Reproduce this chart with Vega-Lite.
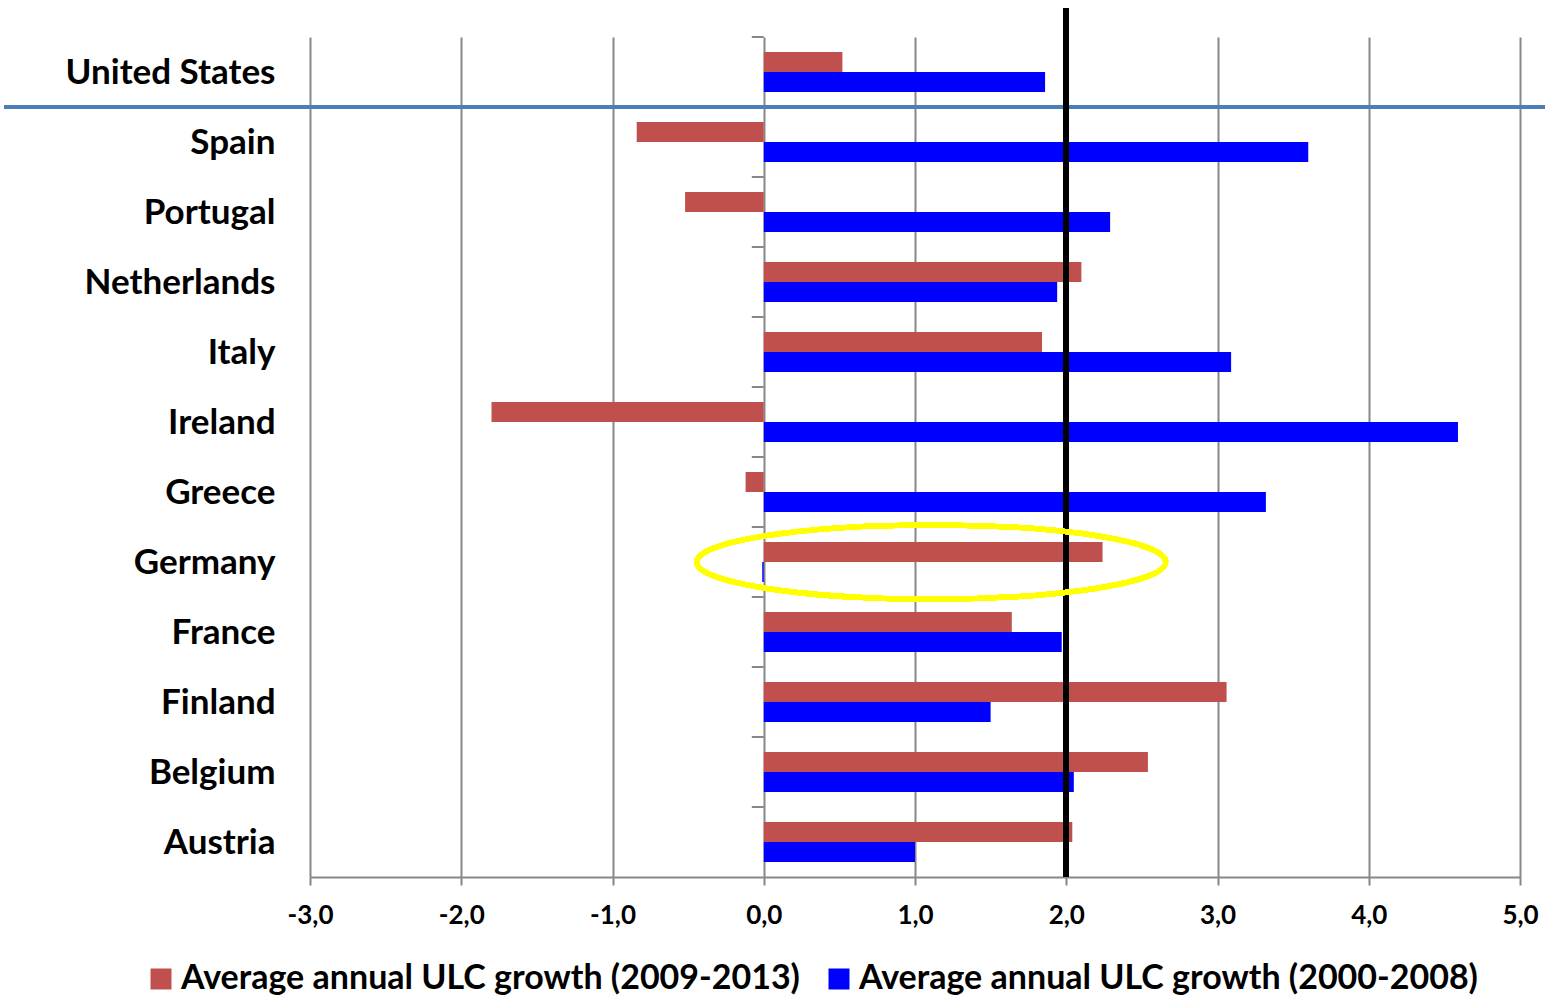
{
  "$schema": "https://vega.github.io/schema/vega-lite/v6.json",
  "width": 1210,
  "height": 840,
  "autosize": {"type": "none"},
  "padding": {"left": 310, "top": 37, "right": 25, "bottom": 120},
  "background": "white",
  "config": {"view": {"stroke": null}, "font": "Lato"},
  "datasets": {
    "ulc": [
      {"country": "United States", "series": "Average annual ULC growth (2009-2013)", "value": 0.52},
      {"country": "United States", "series": "Average annual ULC growth (2000-2008)", "value": 1.86},
      {"country": "Spain", "series": "Average annual ULC growth (2009-2013)", "value": -0.84},
      {"country": "Spain", "series": "Average annual ULC growth (2000-2008)", "value": 3.6},
      {"country": "Portugal", "series": "Average annual ULC growth (2009-2013)", "value": -0.52},
      {"country": "Portugal", "series": "Average annual ULC growth (2000-2008)", "value": 2.29},
      {"country": "Netherlands", "series": "Average annual ULC growth (2009-2013)", "value": 2.1},
      {"country": "Netherlands", "series": "Average annual ULC growth (2000-2008)", "value": 1.94},
      {"country": "Italy", "series": "Average annual ULC growth (2009-2013)", "value": 1.84},
      {"country": "Italy", "series": "Average annual ULC growth (2000-2008)", "value": 3.09},
      {"country": "Ireland", "series": "Average annual ULC growth (2009-2013)", "value": -1.8},
      {"country": "Ireland", "series": "Average annual ULC growth (2000-2008)", "value": 4.59},
      {"country": "Greece", "series": "Average annual ULC growth (2009-2013)", "value": -0.12},
      {"country": "Greece", "series": "Average annual ULC growth (2000-2008)", "value": 3.32},
      {"country": "Germany", "series": "Average annual ULC growth (2009-2013)", "value": 2.24},
      {"country": "Germany", "series": "Average annual ULC growth (2000-2008)", "value": -0.01},
      {"country": "France", "series": "Average annual ULC growth (2009-2013)", "value": 1.64},
      {"country": "France", "series": "Average annual ULC growth (2000-2008)", "value": 1.97},
      {"country": "Finland", "series": "Average annual ULC growth (2009-2013)", "value": 3.06},
      {"country": "Finland", "series": "Average annual ULC growth (2000-2008)", "value": 1.5},
      {"country": "Belgium", "series": "Average annual ULC growth (2009-2013)", "value": 2.54},
      {"country": "Belgium", "series": "Average annual ULC growth (2000-2008)", "value": 2.05},
      {"country": "Austria", "series": "Average annual ULC growth (2009-2013)", "value": 2.04},
      {"country": "Austria", "series": "Average annual ULC growth (2000-2008)", "value": 1.0}
    ]
  },
  "data": {"name": "ulc"},
  "layer": [
    {
      "mark": {"type": "bar"},
      "encoding": {
        "y": {
          "field": "country",
          "type": "nominal",
          "sort": ["United States", "Spain", "Portugal", "Netherlands", "Italy", "Ireland", "Greece", "Germany", "France", "Finland", "Belgium", "Austria"],
          "scale": {
            "domain": ["United States", "Spain", "Portugal", "Netherlands", "Italy", "Ireland", "Greece", "Germany", "France", "Finland", "Belgium", "Austria"],
            "paddingInner": 0.428571,
            "paddingOuter": 0.214286
          },
          "axis": {
            "title": null,
            "domain": false,
            "ticks": false,
            "grid": false,
            "labelFont": "Lato",
            "labelFontSize": 35,
            "labelFontWeight": "bold",
            "labelColor": "black",
            "labelPadding": 35,
            "labelLimit": 1000,
            "labelOffset": 1
          }
        },
        "x": {
          "field": "value",
          "type": "quantitative",
          "scale": {"domain": [-3, 5], "nice": false, "zero": false},
          "axis": {
            "title": null,
            "values": [-3, -2, -1, 0, 1, 2, 3, 4, 5],
            "grid": true,
            "gridColor": "#878787",
            "gridWidth": 2,
            "domainColor": "#878787",
            "domainWidth": 2,
            "tickColor": "#878787",
            "tickWidth": 2,
            "tickSize": 8,
            "labelFont": "Lato",
            "labelFontSize": 26,
            "labelFontWeight": "bold",
            "labelColor": "black",
            "labelPadding": 17,
            "labelFlush": false,
            "labelOverlap": false,
            "labelExpr": "replace(replace(format(datum.value, '.1f'), '.', ','), '\u2212', '-')"
          }
        },
        "yOffset": {
          "field": "series",
          "type": "nominal",
          "sort": ["Average annual ULC growth (2009-2013)", "Average annual ULC growth (2000-2008)"],
          "scale": {"paddingInner": 0, "paddingOuter": 0}
        },
        "color": {
          "field": "series",
          "type": "nominal",
          "scale": {
            "domain": ["Average annual ULC growth (2009-2013)", "Average annual ULC growth (2000-2008)"],
            "range": ["#C0504D", "#0000FF"]
          },
          "legend": {
            "orient": "none",
            "legendX": -166,
            "legendY": 925,
            "direction": "horizontal",
            "title": null,
            "symbolType": "square",
            "symbolSize": 441,
            "symbolStrokeWidth": 0,
            "labelFont": "Lato",
            "labelFontSize": 34,
            "labelFontWeight": "bold",
            "labelColor": "black",
            "labelOffset": 3,
            "labelLimit": 1000,
            "columnPadding": 22,
            "padding": 0
          }
        }
      }
    },
    {
      "transform": [{"filter": "datum.series === 'Average annual ULC growth (2009-2013)'"}],
      "mark": {"type": "rule", "color": "#878787", "strokeWidth": 2},
      "encoding": {
        "y": {"field": "country", "type": "nominal", "bandPosition": -0.375},
        "x": {"datum": -0.079, "type": "quantitative"},
        "x2": {"datum": 0}
      }
    },
    {
      "mark": {"type": "rule", "color": "#4A7EBB", "strokeWidth": 3, "clip": false},
      "encoding": {
        "y": {"datum": "Spain", "type": "nominal", "bandPosition": -0.375},
        "x": {"datum": -5.02, "type": "quantitative"},
        "x2": {"datum": 5.17}
      }
    },
    {
      "mark": {"type": "rule", "color": "black", "strokeWidth": 5, "yOffset": -29, "y2Offset": 28, "clip": false},
      "encoding": {
        "x": {"datum": 2, "type": "quantitative"}
      }
    },
    {
      "mark": {
        "type": "point",
        "shape": "M -1 0 C -1 -0.0872 -0.5523 -0.158 0 -0.158 C 0.5523 -0.158 1 -0.0872 1 0 C 1 0.0872 0.5523 0.158 0 0.158 C -0.5523 0.158 -1 0.0872 -1 0 Z",
        "size": 219961,
        "filled": false,
        "stroke": "#FFFF00",
        "strokeWidth": 5,
        "opacity": 1,
        "clip": false
      },
      "encoding": {
        "x": {"datum": 1.107, "type": "quantitative"},
        "y": {"datum": "Germany", "type": "nominal"}
      }
    }
  ]
}
